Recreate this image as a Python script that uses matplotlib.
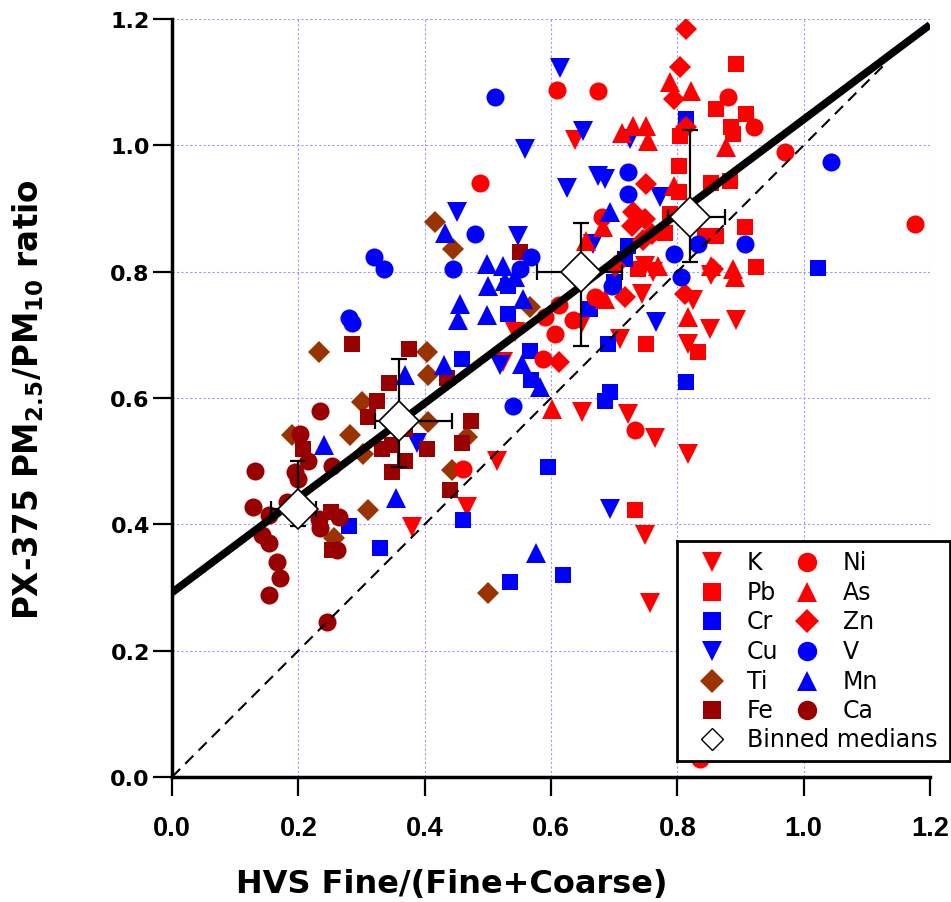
import matplotlib.pyplot as plt
import numpy as np

plt.rcParams['font.weight'] = 'bold'

# ---- data ----
K_x = [0.638, 0.543, 0.649, 0.524, 0.709, 0.744, 0.649, 0.722, 0.765, 0.514, 0.467, 0.749,
       0.757, 0.380, 0.854, 0.825, 0.851, 0.893, 0.817, 0.817, 0.749, 0.762]
K_y = [1.008, 0.704, 0.718, 0.657, 0.694, 0.765, 0.578, 0.575, 0.536, 0.501, 0.427, 0.383,
       0.275, 0.395, 0.794, 0.755, 0.710, 0.723, 0.686, 0.512, 0.809, 0.799]

Pb_x = [0.893, 0.862, 0.909, 0.885, 0.888, 0.854, 0.883, 0.907, 0.925, 0.833, 0.751, 0.733,
        0.804, 0.802, 0.802, 0.788, 0.844, 0.862, 0.780, 0.738]
Pb_y = [1.129, 1.057, 1.049, 1.029, 1.018, 0.941, 0.944, 0.870, 0.808, 0.673, 0.686, 0.422,
        1.015, 0.968, 0.926, 0.891, 0.857, 0.857, 0.862, 0.804]

Cr_x = [0.814, 0.722, 0.717, 0.699, 1.023, 0.814, 0.532, 0.532, 0.662, 0.567, 0.459, 0.569,
        0.691, 0.693, 0.685, 0.596, 0.461, 0.535, 0.619, 0.280, 0.330]
Cr_y = [1.042, 0.841, 0.820, 0.783, 0.806, 0.625, 0.733, 0.778, 0.741, 0.675, 0.662, 0.628,
        0.686, 0.609, 0.596, 0.491, 0.407, 0.309, 0.320, 0.397, 0.362]

Cu_x = [0.614, 0.651, 0.559, 0.625, 0.675, 0.685, 0.773, 0.451, 0.548, 0.519, 0.767, 0.693,
        0.388, 0.725, 0.667]
Cu_y = [1.123, 1.023, 0.994, 0.933, 0.952, 0.947, 0.918, 0.894, 0.857, 0.652, 0.720, 0.425,
        0.528, 1.010, 0.844]

Ti_x = [0.416, 0.445, 0.567, 0.467, 0.443, 0.403, 0.406, 0.406, 0.501, 0.256, 0.232, 0.301,
        0.282, 0.303, 0.190, 0.311]
Ti_y = [0.878, 0.836, 0.744, 0.538, 0.486, 0.673, 0.636, 0.562, 0.291, 0.378, 0.673, 0.594,
        0.541, 0.512, 0.541, 0.422]

Fe_x = [0.551, 0.474, 0.459, 0.440, 0.435, 0.403, 0.253, 0.285, 0.375, 0.343, 0.325, 0.311,
        0.348, 0.369, 0.369, 0.348, 0.332, 0.208, 0.251]
Fe_y = [0.831, 0.564, 0.528, 0.454, 0.631, 0.520, 0.359, 0.686, 0.678, 0.623, 0.596, 0.570,
        0.525, 0.551, 0.501, 0.483, 0.520, 0.520, 0.420]

Ni_x = [0.609, 0.675, 0.488, 0.680, 0.880, 0.922, 0.970, 1.176, 0.590, 0.612, 0.635, 0.606,
        0.588, 0.670, 0.733, 0.461, 0.836]
Ni_y = [1.088, 1.086, 0.941, 0.886, 1.076, 1.029, 0.989, 0.875, 0.728, 0.747, 0.723, 0.702,
        0.662, 0.760, 0.549, 0.488, 0.028]

As_x = [0.712, 0.730, 0.751, 0.754, 0.682, 0.822, 0.877, 0.854, 0.888, 0.891, 0.817, 0.685,
        0.601, 0.788, 0.794, 0.770, 0.656]
As_y = [1.020, 1.031, 1.031, 1.007, 0.871, 1.086, 0.997, 0.809, 0.804, 0.792, 0.728, 0.757,
        0.583, 1.100, 0.936, 0.809, 0.849]

Zn_x = [0.751, 0.730, 0.749, 0.728, 0.814, 0.805, 0.794, 0.814, 0.812, 0.612, 0.717, 0.857,
        0.701, 0.760, 0.745]
Zn_y = [0.939, 0.894, 0.883, 0.873, 1.184, 1.124, 1.073, 1.029, 0.765, 0.657, 0.760, 0.804,
        0.809, 0.860, 0.850]

V_x = [0.511, 0.722, 0.722, 0.480, 0.569, 0.445, 0.551, 0.319, 0.335, 0.280, 0.285, 1.044,
       0.833, 0.907, 0.806, 0.794, 0.696, 0.540]
V_y = [1.076, 0.957, 0.923, 0.860, 0.823, 0.804, 0.804, 0.823, 0.804, 0.726, 0.718, 0.973,
       0.844, 0.844, 0.792, 0.828, 0.778, 0.588]

Mn_x = [0.432, 0.498, 0.524, 0.693, 0.501, 0.456, 0.453, 0.498, 0.556, 0.527, 0.543, 0.554,
        0.583, 0.430, 0.577, 0.369, 0.240, 0.354]
Mn_y = [0.862, 0.812, 0.809, 0.894, 0.778, 0.749, 0.723, 0.731, 0.757, 0.786, 0.792, 0.654,
        0.617, 0.652, 0.354, 0.636, 0.525, 0.441]

Ca_x = [0.235, 0.142, 0.153, 0.166, 0.171, 0.153, 0.245, 0.261, 0.235, 0.203, 0.216, 0.195,
        0.200, 0.253, 0.131, 0.129, 0.153, 0.182, 0.264, 0.232]
Ca_y = [0.394, 0.383, 0.370, 0.341, 0.315, 0.288, 0.246, 0.359, 0.580, 0.543, 0.501, 0.483,
        0.472, 0.493, 0.484, 0.427, 0.414, 0.435, 0.412, 0.409]

# binned medians with their spread
med_x = np.array([0.200, 0.359, 0.648, 0.820])
med_y = np.array([0.424, 0.564, 0.799, 0.886])
med_xlo = np.array([0.156, 0.321, 0.578, 0.785])
med_xhi = np.array([0.228, 0.443, 0.712, 0.875])
med_ylo = np.array([0.397, 0.491, 0.682, 0.816])
med_yhi = np.array([0.500, 0.661, 0.877, 1.025])

fit_intercept = 0.292
fit_slope = 0.749

red, blue, brown, dred = '#ff0000', '#0000ff', '#993300', '#990000'
series = [
    ('K', K_x, K_y, 'v', red, 14),
    ('Pb', Pb_x, Pb_y, 's', red, 12),
    ('Cr', Cr_x, Cr_y, 's', blue, 12),
    ('Cu', Cu_x, Cu_y, 'v', blue, 14),
    ('Ti', Ti_x, Ti_y, 'D', brown, 11.5),
    ('Fe', Fe_x, Fe_y, 's', dred, 12),
    ('Ni', Ni_x, Ni_y, 'o', red, 13),
    ('As', As_x, As_y, '^', red, 14),
    ('Zn', Zn_x, Zn_y, 'D', red, 11.5),
    ('V', V_x, V_y, 'o', blue, 13),
    ('Mn', Mn_x, Mn_y, '^', blue, 14),
    ('Ca', Ca_x, Ca_y, 'o', dred, 13),
]

fig = plt.figure(figsize=(9.51, 9.03), dpi=100)
ax = fig.add_axes([172/951, 1-778/903, 758/951, 758/903])

for name, x, y, m, c, ms in series:
    ax.plot(x, y, ls='none', marker=m, ms=ms, color=c, mew=0, zorder=3)

xx = np.array([0, 1.2])
ax.plot(xx, fit_intercept + fit_slope*xx, color='k', lw=5.5, solid_capstyle='butt', zorder=4)
ax.plot([0, 1.125], [0, 1.125], color='k', lw=1.5, dashes=(5.5, 3.5), zorder=4)

ax.errorbar(med_x, med_y, xerr=[med_x-med_xlo, med_xhi-med_x], yerr=[med_y-med_ylo, med_yhi-med_y],
            fmt='none', ecolor='k', elinewidth=1.6, capsize=6, capthick=1.6, zorder=5)
ax.plot(med_x, med_y, ls='none', marker='D', ms=20, mfc='white', mec='k', mew=1.2, zorder=6)

ax.set_xlim(0, 1.2)
ax.set_ylim(0, 1.2)
ticks = np.arange(0, 1.21, 0.2)
ax.set_xticks(ticks)
ax.set_yticks(ticks)
ax.xaxis.set_major_formatter('{x:.1f}')
ax.yaxis.set_major_formatter('{x:.1f}')
ax.tick_params(direction='out', length=14, width=1.6)
ax.tick_params(axis='x', pad=13, labelsize=19.5, labelfontfamily='Liberation Sans')
ax.tick_params(axis='y', pad=2, labelsize=16, labelfontfamily='DejaVu Sans')
ax.grid(color='#9999ff', ls=(0, (2, 2)), lw=0.8)
ax.set_axisbelow(True)
for s in ['top', 'right']:
    ax.spines[s].set_visible(False)
for s in ['left', 'bottom']:
    ax.spines[s].set_linewidth(2.5)

fig.text(452/951, 1-885/903, 'HVS Fine/(Fine+Coarse)', ha='center', va='center',
         fontfamily='DejaVu Sans', fontweight='bold', fontsize=23)
fig.text(28/951, 1-400/903, r'PX-375 PM$_{2.5}$/PM$_{10}$ ratio', ha='center', va='center',
         rotation=90, fontfamily='DejaVu Sans', fontweight='bold', fontsize=23.5)

# legend drawn as a small boxed axes
lax = fig.add_axes([677/951, 1-762/903, 273/951, 220/903], zorder=10)
lax.set_xlim(0, 1)
lax.set_ylim(0, 1)
lax.set_xticks([])
lax.set_yticks([])
for s in lax.spines.values():
    s.set_linewidth(2)
rows = [0.905, 0.770, 0.636, 0.5, 0.364, 0.230]
for i, (name, x, y, m, c, ms) in enumerate(series):
    col = i // 6
    r = rows[i % 6]
    mx, tx = (0.127, 0.256) if col == 0 else (0.476, 0.608)
    lax.plot([mx], [r], ls='none', marker=m, ms=ms + 1, color=c, mew=0)
    lax.text(tx, r, name, va='center', ha='left', fontfamily='DejaVu Sans',
             fontweight='normal', fontsize=17)
lax.plot([0.127], [0.1], ls='none', marker='D', ms=11.5, mfc='white', mec='k', mew=1)
lax.text(0.256, 0.1, 'Binned medians', va='center', ha='left', fontfamily='DejaVu Sans',
         fontweight='normal', fontsize=17)

fig.savefig('out.png', dpi=100)
